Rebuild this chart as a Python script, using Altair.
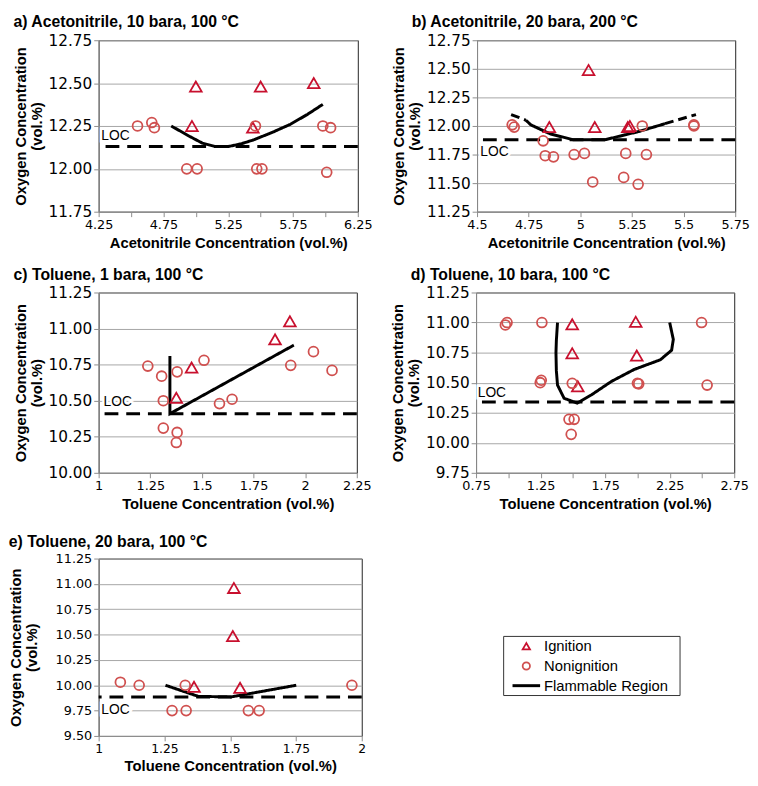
import altair as alt
import pandas as pd

OUTCOMES = ["Ignition", "Nonignition"]
POINT_COLORS = ["#C8102E", "#D0504F"]
LEGEND_LABELS = ["Ignition", "Nonignition", "Flammable Region"]
LEGEND_ROWS = [0, 1, 2]

# ---------------- panel a ----------------
A_TITLE = "a) Acetonitrile, 10 bara, 100 °C"
A_XTITLE = "Acetonitrile Concentration (vol.%)"
A_XTICKS = [4.25, 4.5, 4.75, 5.0, 5.25, 5.5, 5.75, 6.0, 6.25]
A_XLABELS = [4.25, 4.75, 5.25, 5.75, 6.25]
A_YTICKS = [11.75, 12.0, 12.25, 12.5, 12.75]
A_IGN_X = [5.00, 5.50, 5.91, 4.97, 5.44]
A_IGN_Y = [12.48, 12.48, 12.50, 12.25, 12.24]
A_NON_X = [4.55, 4.66, 4.68, 4.93, 5.01, 5.46, 5.47, 5.51, 5.98, 6.04, 6.01]
A_NON_Y = [12.25, 12.27, 12.24, 12.00, 12.00, 12.25, 12.00, 12.00, 12.25, 12.24, 11.98]
A_LINE_X = [4.81, 4.95, 5.05, 5.15, 5.25, 5.35, 5.45, 5.60, 5.73, 5.86, 5.98]
A_LINE_Y = [12.25, 12.19, 12.15, 12.13, 12.13, 12.146, 12.17, 12.216, 12.26, 12.317, 12.376]
A_LINE_SEG = [0] * 11
A_LINE_STYLE = ["solid"] * 11
A_LOC = 12.13
A_LOC_LABEL = (4.27, 12.19)

# ---------------- panel b ----------------
B_TITLE = "b) Acetonitrile, 20 bara, 200 °C"
B_XTITLE = "Acetonitrile Concentration (vol.%)"
B_XTICKS = [4.5, 4.75, 5.0, 5.25, 5.5, 5.75]
B_XLABELS = [4.5, 4.75, 5.0, 5.25, 5.5, 5.75]
B_YTICKS = [11.25, 11.5, 11.75, 12.0, 12.25, 12.5, 12.75]
B_IGN_X = [5.04, 4.85, 5.07, 5.23, 5.24]
B_IGN_Y = [12.49, 11.99, 11.99, 11.99, 12.00]
B_NON_X = [4.67, 4.68, 4.82, 4.83, 4.87, 4.97, 5.02, 5.06, 5.22, 5.21, 5.28, 5.30, 5.32, 5.55, 5.55]
B_NON_Y = [12.01, 11.99, 11.87, 11.74, 11.73, 11.75, 11.76, 11.51, 11.76, 11.55, 11.49, 12.00, 11.75, 12.01, 12.00]
B_LINE_X = [4.665, 4.737, 4.737, 4.76, 4.855, 4.965, 5.12, 5.28, 5.41, 5.41, 5.56]
B_LINE_Y = [12.10, 12.05, 12.05, 12.01, 11.93, 11.88, 11.88, 11.95, 12.02, 12.02, 12.10]
B_LINE_SEG = [0, 0, 1, 1, 1, 1, 1, 1, 1, 2, 2]
B_LINE_STYLE = ["dashed", "dashed", "solid", "solid", "solid", "solid", "solid", "solid", "solid", "dashed", "dashed"]
B_LOC = 11.88
B_LOC_LABEL = (4.516, 11.77)

# ---------------- panel c ----------------
C_TITLE = "c) Toluene, 1 bara, 100 °C"
C_XTITLE = "Toluene Concentration (vol.%)"
C_XTICKS = [1.0, 1.25, 1.5, 1.75, 2.0, 2.25]
C_XLABELS = [1.0, 1.25, 1.5, 1.75, 2.0, 2.25]
C_YTICKS = [10.0, 10.25, 10.5, 10.75, 11.0, 11.25]
C_IGN_X = [1.926, 1.854, 1.45, 1.376]
C_IGN_Y = [11.05, 10.925, 10.73, 10.52]
C_NON_X = [1.238, 1.305, 1.38, 1.51, 1.313, 1.585, 1.646, 1.93, 2.04, 2.13, 1.313, 1.38, 1.376]
C_NON_Y = [10.74, 10.67, 10.70, 10.78, 10.50, 10.48, 10.51, 10.745, 10.84, 10.71, 10.31, 10.28, 10.21]
C_LINE_X = [1.345, 1.345, 1.945]
C_LINE_Y = [10.81, 10.41, 10.885]
C_LINE_SEG = [0, 0, 0]
C_LINE_STYLE = ["solid"] * 3
C_LOC = 10.41
C_LOC_LABEL = (1.024, 10.49)

# ---------------- panel d ----------------
D_TITLE = "d) Toluene, 10 bara, 100 °C"
D_XTITLE = "Toluene Concentration (vol.%)"
D_XTICKS = [0.75, 1.0, 1.25, 1.5, 1.75, 2.0, 2.25, 2.5, 2.75]
D_XLABELS = [0.75, 1.25, 1.75, 2.25, 2.75]
D_YTICKS = [9.75, 10.0, 10.25, 10.5, 10.75, 11.0, 11.25]
D_IGN_X = [1.495, 1.987, 1.495, 1.995, 1.538]
D_IGN_Y = [10.985, 11.007, 10.745, 10.726, 10.47]
D_NON_X = [0.977, 0.99, 1.26, 2.497, 1.255, 1.247, 1.495, 2.00, 2.01, 2.54, 1.47, 1.51, 1.487]
D_NON_Y = [10.98, 11.0, 11.0, 11.0, 10.52, 10.50, 10.495, 10.495, 10.49, 10.48, 10.195, 10.195, 10.07]
D_LINE_X = [1.381, 1.372, 1.369, 1.372, 1.381, 1.432, 1.533, 1.646, 1.798, 1.975, 2.177, 2.265, 2.278, 2.25]
D_LINE_Y = [11.0, 10.85, 10.75, 10.6, 10.48, 10.37, 10.33, 10.40, 10.51, 10.61, 10.69, 10.77, 10.86, 11.0]
D_LINE_SEG = [0] * 14
D_LINE_STYLE = ["solid"] * 14
D_LOC = 10.34
D_LOC_LABEL = (0.763, 10.41)

# ---------------- panel e ----------------
E_TITLE = "e) Toluene, 20 bara, 100 °C"
E_XTITLE = "Toluene Concentration (vol.%)"
E_XTICKS = [1.0, 1.25, 1.5, 1.75, 2.0]
E_XLABELS = [1.0, 1.25, 1.5, 1.75, 2.0]
E_YTICKS = [9.5, 9.75, 10.0, 10.25, 10.5, 10.75, 11.0, 11.25]
E_IGN_X = [1.514, 1.51, 1.3625, 1.5375]
E_IGN_Y = [10.96, 10.486, 9.985, 9.975]
E_NON_X = [1.0825, 1.154, 1.329, 1.279, 1.3325, 1.569, 1.61, 1.9625]
E_NON_Y = [10.03, 10.0, 10.0, 9.75, 9.75, 9.75, 9.75, 10.0]
E_LINE_X = [1.254, 1.379, 1.504, 1.579, 1.751]
E_LINE_Y = [10.0, 9.89, 9.885, 9.92, 10.0]
E_LINE_SEG = [0] * 5
E_LINE_STYLE = ["solid"] * 5
E_LOC = 9.885
E_LOC_LABEL = (1.01, 9.76)

TITLE_FONT = "Liberation Sans"
TICK_FONT = "DejaVu Sans"


def make_panel(title, xtitle, xticks, xlabels, yticks, ign_x, ign_y, non_x, non_y,
               line_x, line_y, line_seg, line_style, loc, loc_label,
               width, height, title_dx, ylab_size, xlab_size, ytitle_pad):
    pts = pd.DataFrame({
        "x": ign_x + non_x,
        "y": ign_y + non_y,
        "outcome": ["Ignition"] * len(ign_x) + ["Nonignition"] * len(non_x),
    })
    line = pd.DataFrame({"x": line_x, "y": line_y, "seg": line_seg,
                         "style": line_style, "i": list(range(len(line_x)))})
    locdf = pd.DataFrame({"y": [loc]})
    labdf = pd.DataFrame({"x": [loc_label[0]], "y": [loc_label[1]], "t": ["LOC"]})

    lab_list = ",".join(repr(v) for v in xlabels)
    xenc = alt.X("x:Q",
                 scale=alt.Scale(domain=[xticks[0], xticks[-1]], nice=False, zero=False),
                 axis=alt.Axis(values=xticks,
                               labelExpr=f"indexof([{lab_list}], datum.value) >= 0 ? format(datum.value, '~g') : ''",
                               title=xtitle, grid=False, labelFlush=False, labelOverlap=False,
                               labelFontSize=xlab_size, titlePadding=4))
    yenc = alt.Y("y:Q",
                 scale=alt.Scale(domain=[yticks[0], yticks[-1]], nice=False, zero=False),
                 axis=alt.Axis(values=yticks, format=".2f", title=["Oxygen Concentration", "(vol.%)"],
                               grid=True, labelFlush=False, labelOverlap=False,
                               labelFontSize=ylab_size, titlePadding=ytitle_pad))

    rule = alt.Chart(locdf).mark_rule(color="black", strokeWidth=3, strokeDash=[14, 8]).encode(y=yenc)
    curve = alt.Chart(line).mark_line(color="black", strokeWidth=3).encode(
        x=xenc, y=yenc, order="i:Q", detail="seg:N",
        strokeDash=alt.StrokeDash("style:N", scale=alt.Scale(domain=["solid", "dashed"], range=[[1, 0], [9, 5]]),
                                  legend=None))
    points = alt.Chart(pts).mark_point(filled=False, strokeWidth=1.8, opacity=1).encode(
        x=xenc, y=yenc,
        shape=alt.Shape("outcome:N", scale=alt.Scale(domain=OUTCOMES, range=["triangle-up", "circle"]), legend=None),
        color=alt.Color("outcome:N", scale=alt.Scale(domain=OUTCOMES, range=POINT_COLORS), legend=None),
        size=alt.Size("outcome:N", scale=alt.Scale(domain=OUTCOMES, range=[140, 100]), legend=None))
    halo = alt.Chart(labdf).mark_text(align="left", baseline="middle", fontSize=14, font=TITLE_FONT,
                                      color="white", stroke="white", strokeWidth=5).encode(x=xenc, y=yenc, text="t:N")
    txt = alt.Chart(labdf).mark_text(align="left", baseline="middle", fontSize=14, font=TITLE_FONT,
                                     color="black").encode(x=xenc, y=yenc, text="t:N")
    return alt.layer(rule, curve, points, halo, txt).properties(
        width=width, height=height,
        title=alt.TitleParams(text=title, anchor="start", dx=title_dx, offset=3,
                              fontSize=16, font=TITLE_FONT, fontWeight="bold"))


pa = make_panel(A_TITLE, A_XTITLE, A_XTICKS, A_XLABELS, A_YTICKS, A_IGN_X, A_IGN_Y, A_NON_X, A_NON_Y,
                A_LINE_X, A_LINE_Y, A_LINE_SEG, A_LINE_STYLE, A_LOC, A_LOC_LABEL,
                263, 174, 0, 15.5, 13, 4)
pb = make_panel(B_TITLE, B_XTITLE, B_XTICKS, B_XLABELS, B_YTICKS, B_IGN_X, B_IGN_Y, B_NON_X, B_NON_Y,
                B_LINE_X, B_LINE_Y, B_LINE_SEG, B_LINE_STYLE, B_LOC, B_LOC_LABEL,
                262, 174, 20, 15.5, 13, 4)
pc = make_panel(C_TITLE, C_XTITLE, C_XTICKS, C_XLABELS, C_YTICKS, C_IGN_X, C_IGN_Y, C_NON_X, C_NON_Y,
                C_LINE_X, C_LINE_Y, C_LINE_SEG, C_LINE_STYLE, C_LOC, C_LOC_LABEL,
                262, 183, 0, 15.5, 13, 4)
pd_ = make_panel(D_TITLE, D_XTITLE, D_XTICKS, D_XLABELS, D_YTICKS, D_IGN_X, D_IGN_Y, D_NON_X, D_NON_Y,
                 D_LINE_X, D_LINE_Y, D_LINE_SEG, D_LINE_STYLE, D_LOC, D_LOC_LABEL,
                 262, 183, 20, 15.5, 13, 4)
pe = make_panel(E_TITLE, E_XTITLE, E_XTICKS, E_XLABELS, E_YTICKS, E_IGN_X, E_IGN_Y, E_NON_X, E_NON_Y,
                E_LINE_X, E_LINE_Y, E_LINE_SEG, E_LINE_STYLE, E_LOC, E_LOC_LABEL,
                267, 180, 0, 13, 12.5, 16)

# ---------------- legend ----------------
ld = pd.DataFrame({"label": LEGEND_LABELS, "row": LEGEND_ROWS})
box = pd.DataFrame({"y0": [LEGEND_ROWS[0] - 0.5], "y1": [LEGEND_ROWS[-1] + 0.5]})
lscale = alt.Scale(domain=[-4.45, 4.55], reverse=True, nice=False, zero=False)
ly = alt.Y("row:Q", axis=None, scale=lscale)
lbox = alt.Chart(box).mark_rect(fill="white", stroke="#333333", strokeWidth=1).encode(
    x=alt.value(0), x2=alt.value(179), y=alt.Y("y0:Q", axis=None, scale=lscale), y2="y1:Q")
lsym = alt.Chart(ld).transform_filter(
    alt.FieldOneOfPredicate(field="label", oneOf=OUTCOMES)
).mark_point(filled=False, strokeWidth=1.8, size=55, opacity=1).encode(
    x=alt.value(23), y=ly,
    shape=alt.Shape("label:N", scale=alt.Scale(domain=OUTCOMES, range=["triangle-up", "circle"]), legend=None),
    color=alt.Color("label:N", scale=alt.Scale(domain=OUTCOMES, range=POINT_COLORS), legend=None))
lrule = alt.Chart(ld).transform_filter(alt.datum.label == "Flammable Region").mark_rule(
    color="black", strokeWidth=3).encode(x=alt.value(9), x2=alt.value(37), y=ly)
ltxt = alt.Chart(ld).mark_text(align="left", baseline="middle", fontSize=15, font=TITLE_FONT,
                               color="black").encode(x=alt.value(41), y=ly, text="label:N")
legend = alt.layer(lbox, lsym, lrule, ltxt).properties(
    width=179, height=180, view=alt.ViewBackground(stroke="transparent"))

top_rows = alt.vconcat(
    alt.hconcat(pa, pb, spacing=19),
    alt.hconcat(pc, pd_, spacing=19),
    spacing=15,
)
chart = alt.vconcat(
    top_rows,
    alt.hconcat(pe, legend, spacing=138),
    spacing=21,
).properties(padding=0).configure_view(
    stroke="#222222", strokeWidth=1
).configure_axis(
    labelFont=TICK_FONT, labelColor="black", titleFont=TITLE_FONT, titleFontSize=15,
    titleFontWeight="bold", titleColor="black", domainColor="#8c8c8c", tickColor="#8c8c8c",
    tickSize=5, labelPadding=2, gridColor="#a6a6a6", gridWidth=1, titleLineHeight=16
)

chart.save("out.html", embed_options={"renderer": "svg", "actions": False})
